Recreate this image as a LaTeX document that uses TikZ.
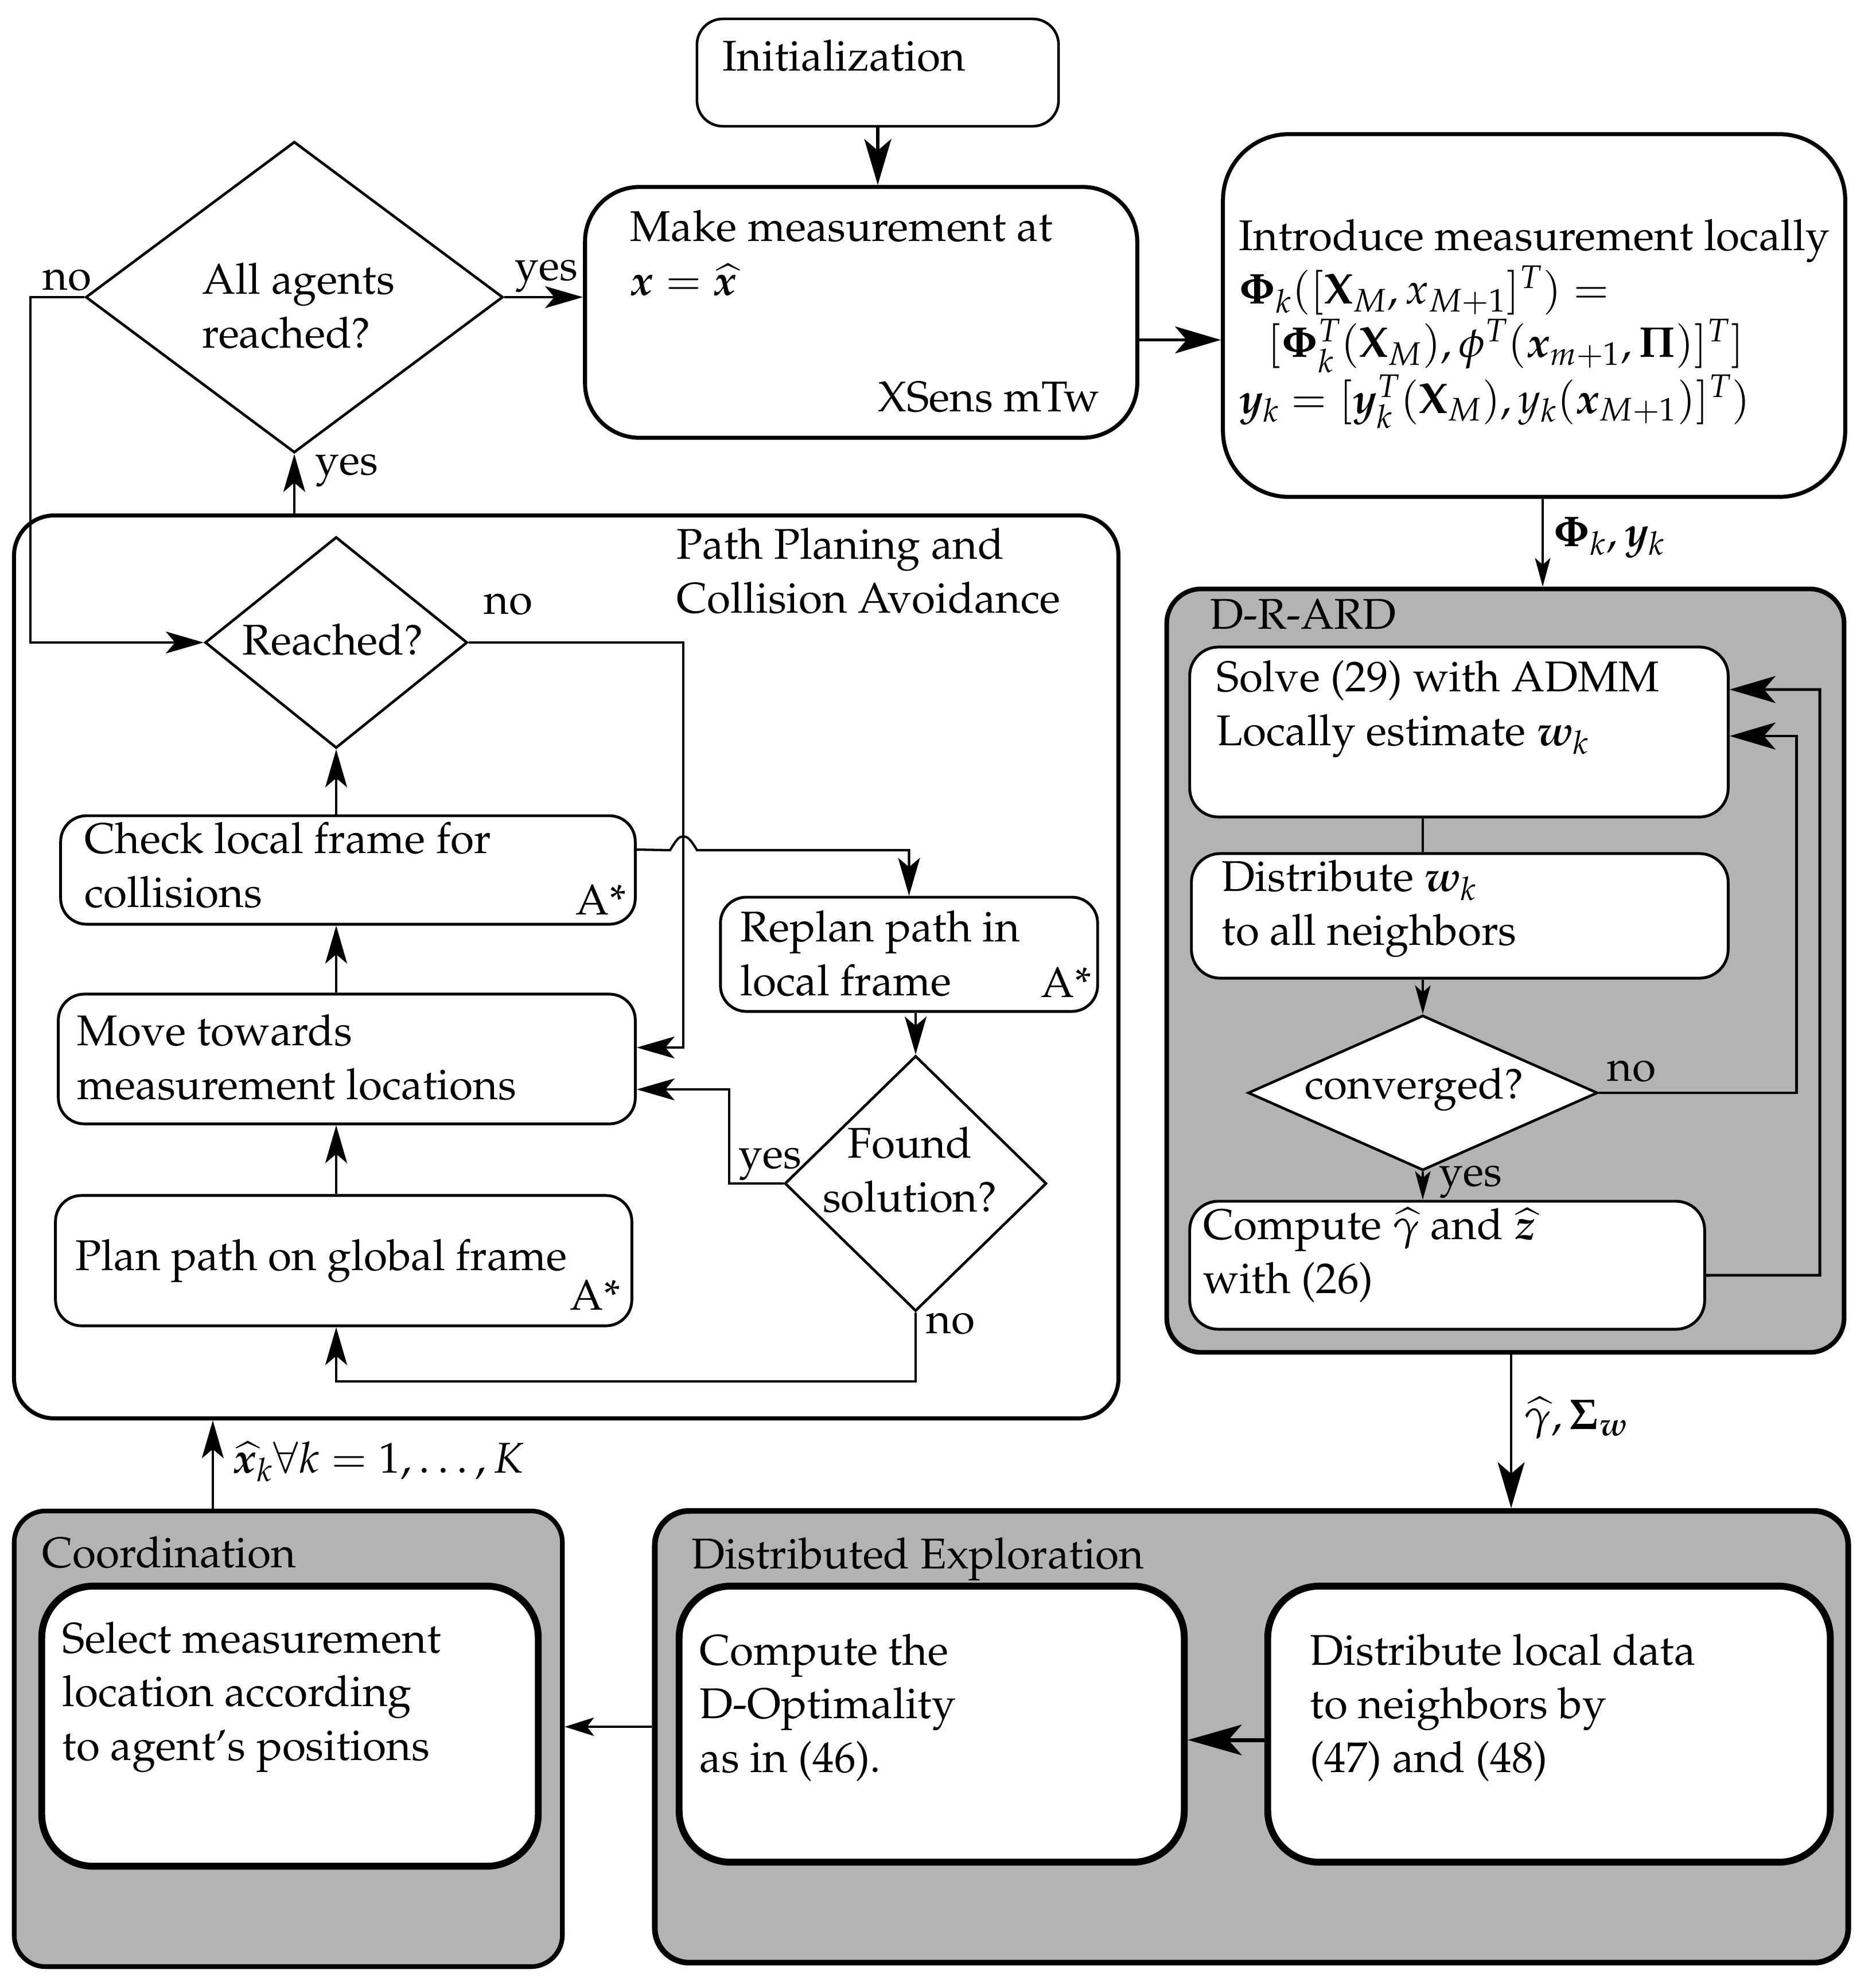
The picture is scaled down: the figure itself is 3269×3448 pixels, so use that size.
\documentclass[tikz,border=0pt]{standalone}
\usepackage[T1]{fontenc}
\usepackage{mathpazo}
\usepackage{amsmath,bm}
\usepackage{xcolor}
\usepackage{tikz}
\usetikzlibrary{arrows.meta,positioning,shapes.geometric}
\definecolor{boxgray}{RGB}{179,179,179}
\tikzstyle{box} = [rectangle, draw=black, line width=1.4pt, rounded corners=0.45cm, fill=white, inner sep=0pt]
\tikzstyle{bigbox} = [rectangle, draw=black, line width=2pt, rounded corners=0.95cm, fill=white, inner sep=0pt]
\tikzstyle{groupbox} = [rectangle, draw=black, line width=2.3pt, rounded corners=0.6cm, fill=boxgray, inner sep=0pt]
\tikzstyle{heavybox} = [rectangle, draw=black, line width=3.4pt, rounded corners=0.9cm, fill=white, inner sep=0pt]
\tikzstyle{decision} = [diamond, draw=black, line width=1.3pt, fill=white, inner sep=0pt]
\tikzstyle{txt} = [inner sep=0pt, align=left, anchor=base west]
\tikzstyle{wire} = [line width=1.15pt]
\tikzstyle{arrS} = [-{Stealth[length=0.5cm, width=0.27cm, inset=0.12cm]}, line width=1pt]
\tikzstyle{arrM} = [-{Stealth[length=0.66cm, width=0.38cm, inset=0.16cm]}, line width=1.15pt]
\tikzstyle{arrL} = [-{Stealth[length=0.8cm, width=0.47cm, inset=0.2cm]}, line width=1.45pt]
\tikzstyle{arrXL} = [-{Stealth[length=0.94cm, width=0.53cm, inset=0.23cm]}, line width=2pt]

\begin{document}
\begin{tikzpicture}[x=0.01cm, y=-0.01cm, font=\fontsize{21.3}{26.5}\selectfont]
\useasboundingbox (0,0) rectangle (3269,3448);

% top row (text nodes sit on the baseline of their last line)
\node[box, line width=1.3pt, minimum width=6.30cm, minimum height=1.87cm] (init) at (1530,126.5) {};
\node[txt] (initT) at (1259,123) {Initialization};
\node[bigbox, minimum width=9.62cm, minimum height=4.37cm] (make) at (1501,544.5) {};
\node[txt] (makeT) at (1098,514) {Make measurement at\\$\bm{x}=\widehat{\bm{x}}$};
\node[txt, anchor=base east] (makeS) at (1918,717) {XSens mTw};
\node[bigbox, rounded corners=1.15cm, minimum width=10.84cm, minimum height=6.32cm] (intro) at (2674,550) {};
\node[txt] (introT) at (2159,720) {Introduce measurement locally\\
  $\bm{\Phi}_k([\mathbf{X}_M, x_{M+1}]^T) =$\\
  \hspace{0.5cm}$[\bm{\Phi}_k^T(\mathbf{X}_M), \phi^T(\bm{x}_{m+1}, \bm{\Pi})]^T]$\\
  $\bm{y}_k = [\bm{y}_k^T(\mathbf{X}_M), y_k(\bm{x}_{M+1})]^T)$};
\node[decision, minimum width=7.27cm, minimum height=5.42cm] (allag) at (513,518) {};
\node[txt] (allagT) at (352,606) {All agents\\reached?};

% path planning
\node[bigbox, rounded corners=0.7cm, minimum width=19.24cm, minimum height=15.73cm] (pp) at (987,1685.5) {};
\node[txt] (ppT) at (1179,1068) {Path Planing and\\Collision Avoidance};
\node[decision, minimum width=4.57cm, minimum height=3.68cm] (reached) at (586,1120) {};
\node[txt, anchor=base] (reachedT) at (580,1141) {Reached?};
\node[box, minimum width=10.01cm, minimum height=1.89cm] (check) at (606.5,1516.5) {};
\node[txt] (checkT) at (147,1581) {Check local frame for\\collisions};
\node[txt, anchor=base east] (checkA) at (1092,1594) {A*};
\node[box, minimum width=6.57cm, minimum height=1.99cm] (replan) at (1584.5,1663.5) {};
\node[txt] (replanT) at (1290,1735) {Replan path in\\local frame};
\node[txt, anchor=base east] (replanA) at (1903,1738) {A*};
\node[box, minimum width=10.05cm, minimum height=2.26cm] (move) at (604.5,1846) {};
\node[txt] (moveT) at (134,1916) {Move towards\\measurement locations};
\node[decision, minimum width=4.56cm, minimum height=4.45cm] (found) at (1596,2063) {};
\node[txt, align=center, anchor=base] (foundT) at (1586,2112) {Found\\solution?};
\node[box, minimum width=10.04cm, minimum height=2.27cm] (plan) at (599,2197.5) {};
\node[txt] (planT) at (131,2214) {Plan path on global frame};
\node[txt, anchor=base east] (planA) at (1082,2283) {A*};

% D-R-ARD
\node[groupbox, minimum width=11.80cm, minimum height=13.30cm] (drard) at (2624,1692) {};
\node[txt] (drardT) at (2109,1096) {D-R-ARD};
\node[box, rounded corners=0.5cm, minimum width=9.38cm, minimum height=2.96cm] (solve) at (2543,1276) {};
\node[txt] (solveT) at (2120,1299) {Solve (29) with ADMM\\Locally estimate $\bm{w}_k$};
\node[box, rounded corners=0.5cm, minimum width=9.35cm, minimum height=2.17cm] (distw) at (2544.5,1596.5) {};
\node[txt] (distwT) at (2129,1647) {Distribute $\bm{w}_k$\\to all neighbors};
\node[decision, minimum width=6.09cm, minimum height=2.70cm] (conv) at (2480,1905) {};
\node[txt, anchor=base] (convT) at (2465,1915) {converged?};
\node[box, rounded corners=0.5cm, minimum width=8.97cm, minimum height=2.23cm] (comp) at (2522.5,2205.5) {};
\node[txt] (compT) at (2097,2254) {Compute $\widehat{\gamma}$ and $\widehat{\bm{z}}$\\with (26)};

% bottom row
\node[groupbox, rounded corners=0.55cm, minimum width=9.55cm, minimum height=7.94cm] (coord) at (502.5,3031) {};
\node[txt] (coordT) at (73,2732) {Coordination};
\node[heavybox, minimum width=8.65cm, minimum height=4.88cm] (select) at (505.5,3009) {};
\node[txt] (selectT) at (108,3068) {Select measurement\\location according\\to agent's positions};
\node[groupbox, line width=2.8pt, minimum width=20.79cm, minimum height=7.87cm] (dexp) at (2181.5,3027.5) {};
\node[txt] (dexpT) at (1205,2734) {Distributed Exploration};
\node[heavybox, minimum width=8.80cm, minimum height=4.81cm] (dopt) at (1624,3005.5) {};
\node[txt] (doptT) at (1219,3089) {Compute the\\D-Optimality\\as in (46).};
\node[heavybox, minimum width=9.80cm, minimum height=4.81cm] (dloc) at (2700,3005.5) {};
\node[txt] (dlocT) at (2283,3089) {Distribute local data\\to neighbors by\\(47) and (48)};

% connectors top
\draw[arrL] (init.south) -- (init.south |- make.north);
\draw[arrM, line width=1.4pt] (allag.east) -- (allag.east -| make.west);
\node[txt] (yes1) at (897,488) {yes};
\draw[arrL] ([yshift=-0.48cm]make.east) -- ([yshift=-0.48cm]make.east -| intro.west);
\draw[arrM] (allag.south |- pp.north) -- (allag.south);
\node[txt] (yes2) at (549,827) {yes};
\draw[arrM] (allag.west) -- (53,518) |- (reached.west);
\node[txt] (no1) at (74,505) {no};

% connectors path planning
\draw[arrM] (reached.east) -- (1191,1120) |- ([yshift=0.2cm]move.east);
\node[txt] (no2) at (843,1070) {no};
\draw[arrM] (reached.south |- check.north) -- (reached.south);
\draw[arrM] ([yshift=0.355cm]check.east) -- (1168,1482)
  .. controls (1180,1462) and (1184,1458) .. (1191,1458)
  .. controls (1198,1458) and (1203,1462) .. (1215,1482) -| (replan.north);
\draw[arrM] (found.north |- replan.south) -- (found.north);
\draw[arrM] (reached.south |- move.north) -- (reached.south |- check.south);
\draw[arrM] (found.west) -- (1271,2063) |- ([yshift=-0.53cm]move.east);
\node[txt] (yes3) at (1287,2036) {yes};
\draw[arrM] (found.south) -- (1596,2408) -| (reached.south |- plan.south);
\node[txt] (no3) at (1614,2324) {no};
\draw[arrM] (reached.south |- plan.north) -- (reached.south |- move.south);

% connectors D-R-ARD
\draw[arrS] ([xshift=0.15cm]intro.south) -- ([xshift=0.15cm]intro.south |- drard.north);
\node[txt] (philab) at (2707,952) {$\bm{\Phi}_k, \bm{y}_k$};
\draw[wire] (conv.north |- solve.south) -- (conv.north |- distw.north);
\draw[arrS] (conv.north |- distw.south) -- (conv.north);
\draw[arrL, line width=1.4pt] (conv.east) -- (3131,1905) |- ([yshift=-0.07cm]solve.east);
\node[txt] (no4) at (2801,1884) {no};
\draw[arrS] (conv.south) -- (conv.south |- comp.north);
\node[txt] (yes4) at (2508,2067) {yes};
\draw[arrL, line width=1.4pt] ([yshift=-0.175cm]comp.east) -- (3172,2223) |- ([yshift=0.74cm]solve.east);

% connectors bottom
\draw[arrL, line width=1.15pt] ([xshift=0.1cm]drard.south) -- ([xshift=0.1cm]drard.south |- dexp.north);
\node[txt] (gamlab) at (2656,2491) {$\widehat{\gamma}, \bm{\Sigma}_{\bm{w}}$};
\draw[arrM] ([xshift=-1.315cm]coord.north) -- ([xshift=-1.315cm]coord.north |- pp.south);
\node[txt] (xlab) at (406,2567) {$\widehat{\bm{x}}_k \forall k = 1,\ldots,K$};
\draw[-{Stealth[length=0.51cm, width=0.32cm, inset=0.12cm]}, line width=1pt] ([yshift=0.175cm]dexp.west) -- ([yshift=0.175cm]dexp.west -| coord.east);
\draw[arrXL] ([yshift=-0.275cm]dloc.west) -- ([yshift=-0.275cm]dloc.west -| dopt.east);
\end{tikzpicture}
\end{document}
